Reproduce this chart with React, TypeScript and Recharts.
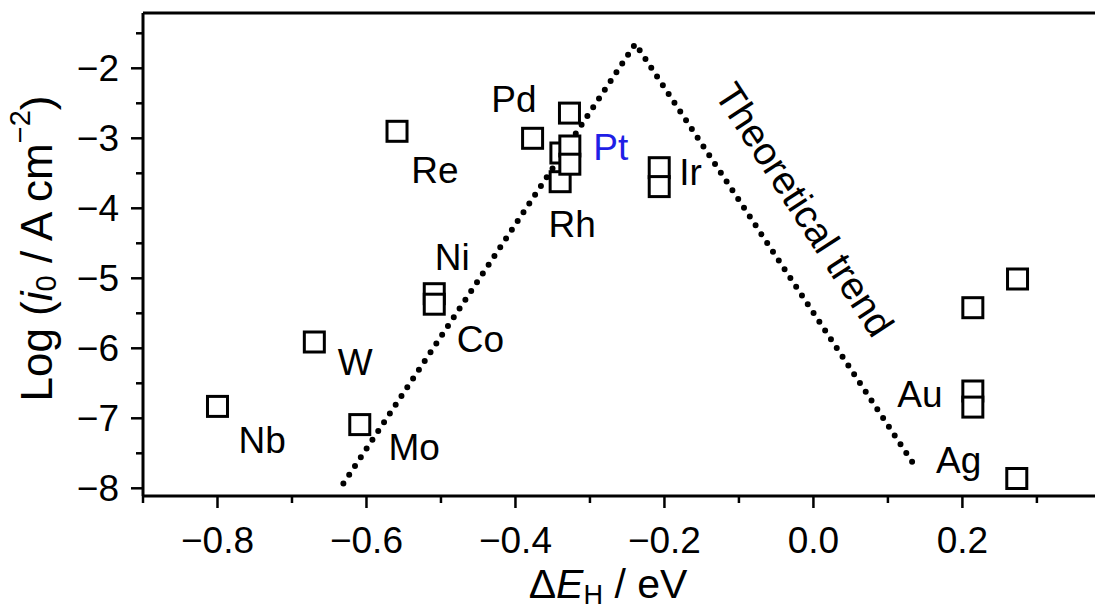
import React from 'react';
import { ComposedChart, Scatter, Line, XAxis, YAxis, ReferenceLine } from 'recharts';

const FONT = '"Liberation Sans", Arial, Helvetica, sans-serif';
const FS = 37;
const TITLE_FS = 44;
const XTITLE_FS = 41;
const TREND_FS = 39;

// Metal data points: ΔE_H (eV) and log(i0)
const metalDE = [-0.8, -0.67, -0.609, -0.559, -0.509, -0.509, -0.377, -0.3275, -0.34, -0.339, -0.327, -0.327, -0.207, -0.207, 0.214, 0.214, 0.214, 0.274, 0.273];
const metalLogI = [-6.83, -5.91, -7.09, -2.9, -5.22, -5.37, -3.0, -2.64, -3.62, -3.21, -3.11, -3.37, -3.42, -3.69, -5.42, -6.61, -6.84, -5.01, -7.86];

// Theoretical trend (volcano)
const trendDE = [-0.631, -0.239, 0.138];
const trendLogI = [-7.93, -1.65, -7.71];

// Element labels (anchor in data space)
const labelNames = ['Pd', 'Pt', 'Re', 'Rh', 'Ir', 'Ni', 'Co', 'W', 'Nb', 'Mo', 'Au', 'Ag'];
const labelDE = [-0.402, -0.272, -0.508, -0.324, -0.165, -0.485, -0.447, -0.615, -0.74, -0.536, 0.143, 0.195];
const labelLogI = [-2.624, -3.31, -3.64, -4.41, -3.67, -4.88, -6.05, -6.38, -7.5, -7.6, -6.84, -7.78];
const labelColors = ['#000', '#1f1fe6', '#000', '#000', '#000', '#000', '#000', '#000', '#000', '#000', '#000', '#000'];

const trendLabel = 'Theoretical trend';
const trendLabelDE = [-0.012];
const trendLabelLogI = [-4.02];

// Ticks
const xMajor = [-0.8, -0.6, -0.4, -0.2, 0, 0.2];
const xMinor = [-0.9, -0.7, -0.5, -0.3, -0.1, 0.1, 0.3];
const yMajor = [-8, -7, -6, -5, -4, -3, -2];
const yMinor = [-7.5, -6.5, -5.5, -4.5, -3.5, -2.5, -1.5];

const xTicks = [...xMajor, ...xMinor].sort((a, b) => a - b);
const yTicks = [...yMajor, ...yMinor].sort((a, b) => a - b);

const xDomain: [number, number] = [-0.9, 0.378];
const yDomain: [number, number] = [-8.11, -1.21];

const metalData = metalDE.map((x, i) => ({ x, y: metalLogI[i] }));
const trendData = trendDE.map((x, i) => ({ x, y: trendLogI[i] }));
const labelData = labelNames.map((name, i) => ({ x: labelDE[i], y: labelLogI[i], name, color: labelColors[i] }));
const trendLabelData = trendLabelDE.map((x, i) => ({ x, y: trendLabelLogI[i], name: trendLabel }));

const isIn = (arr: number[], v: number) => arr.some((m) => Math.abs(m - v) < 1e-9);
const fmtX = (v: number) => (v < -1e-9 ? '\u2212' + Math.abs(v).toFixed(1) : Math.abs(v).toFixed(1));
const fmtY = (v: number) => (v < 0 ? '\u2212' + Math.abs(v) : String(v));

const XTick = (props: any) => {
  const { x, y, payload } = props;
  const v = payload.value;
  const major = isIn(xMajor, v);
  return (
    <g>
      <line x1={x} x2={x} y1={y} y2={y + (major ? 12 : 7)} stroke="#000" strokeWidth={2.5} />
      {major && (
        <text x={x} y={y + 57} textAnchor="middle" fontSize={FS} fontFamily={FONT} fill="#000">
          {fmtX(v)}
        </text>
      )}
    </g>
  );
};

const YTick = (props: any) => {
  const { x, y, payload } = props;
  const v = payload.value;
  const major = isIn(yMajor, v);
  return (
    <g>
      <line x1={x - (major ? 12 : 7)} x2={x} y1={y} y2={y} stroke="#000" strokeWidth={2.5} />
      {major && (
        <text x={x - 24} y={y + 13} textAnchor="end" fontSize={FS} fontFamily={FONT} fill="#000">
          {fmtY(v)}
        </text>
      )}
    </g>
  );
};

const YTitle = (props: any) => {
  const vb = props.viewBox || { x: 0, y: 13, width: 143, height: 483 };
  const cx = vb.x + 36;
  const cy = vb.y + vb.height / 2 - 6;
  return (
    <text
      transform={`rotate(-90, ${cx}, ${cy})`}
      x={cx}
      y={cy}
      textAnchor="middle"
      dominantBaseline="central"
      fontSize={TITLE_FS}
      fontFamily={FONT}
      fill="#000"
    >
      Log (<tspan fontStyle="italic">i</tspan>
      <tspan dy={10} fontSize={TITLE_FS * 0.66}>0</tspan>
      <tspan dy={-10}> / A cm</tspan>
      <tspan dy={-16} fontSize={TITLE_FS * 0.66}>{'\u22122'}</tspan>
      <tspan dy={16}>)</tspan>
    </text>
  );
};

const XTitle = (props: any) => {
  const vb = props.viewBox || { x: 143, y: 496, width: 952, height: 117 };
  const cx = vb.x + vb.width / 2 - 11;
  const by = vb.y + 102;
  return (
    <text x={cx} y={by} textAnchor="middle" fontSize={XTITLE_FS} fontFamily={FONT} fill="#000">
      {'\u0394'}
      <tspan fontStyle="italic">E</tspan>
      <tspan dy={6} fontSize={XTITLE_FS * 0.66}>H</tspan>
      <tspan dy={-6}> / eV</tspan>
    </text>
  );
};

const SquareShape = (props: any) => {
  const { cx, cy } = props;
  if (cx == null || cy == null) return null;
  const s = 20;
  return <rect x={cx - s / 2} y={cy - s / 2} width={s} height={s} fill="#fff" stroke="#000" strokeWidth={3} />;
};

const LabelShape = (props: any) => {
  const { cx, cy, payload } = props;
  if (cx == null || cy == null) return null;
  return (
    <text x={cx} y={cy} textAnchor="middle" fontSize={FS} fontFamily={FONT} fill={payload.color}>
      {payload.name}
    </text>
  );
};

const TrendLabelShape = (props: any) => {
  const { cx, cy, payload } = props;
  if (cx == null || cy == null) return null;
  return (
    <text
      x={cx}
      y={cy}
      transform={`rotate(57, ${cx}, ${cy})`}
      textAnchor="middle"
      dominantBaseline="central"
      fontSize={TREND_FS}
      fontFamily={FONT}
      fill="#000"
    >
      {payload.name}
    </text>
  );
};

export default function App() {
  return (
    <div style={{ position: 'absolute', left: 0, top: 0, width: 1095, height: 613, background: '#fff' }}>
      <ComposedChart width={1095} height={613} margin={{ top: 13, right: 0, bottom: 0, left: 0 }}>
        <XAxis
          type="number"
          dataKey="x"
          domain={xDomain}
          allowDataOverflow
          ticks={xTicks}
          interval={0}
          height={117}
          tickSize={0}
          tickMargin={0}
          tickLine={false}
          tick={<XTick />}
          axisLine={{ stroke: '#000', strokeWidth: 3 }}
          label={{ content: (p: any) => <XTitle {...p} /> }}
        />
        <YAxis
          type="number"
          dataKey="y"
          domain={yDomain}
          allowDataOverflow
          ticks={yTicks}
          interval={0}
          width={143}
          tickSize={0}
          tickMargin={0}
          tickLine={false}
          tick={<YTick />}
          axisLine={{ stroke: '#000', strokeWidth: 3 }}
          label={{ content: (p: any) => <YTitle {...p} /> }}
        />
        <ReferenceLine y={yDomain[1]} stroke="#000" strokeWidth={3} ifOverflow="visible" />
        <Scatter data={metalData} dataKey="y" shape={<SquareShape />} isAnimationActive={false} />
        <Line
          data={trendData}
          dataKey="y"
          type="linear"
          stroke="#000"
          strokeWidth={6}
          strokeDasharray="0 10.5"
          strokeLinecap="round"
          dot={false}
          activeDot={false}
          isAnimationActive={false}
        />
        <Scatter data={labelData} dataKey="y" shape={<LabelShape />} isAnimationActive={false} />
        <Scatter data={trendLabelData} dataKey="y" shape={<TrendLabelShape />} isAnimationActive={false} />
      </ComposedChart>
    </div>
  );
}
